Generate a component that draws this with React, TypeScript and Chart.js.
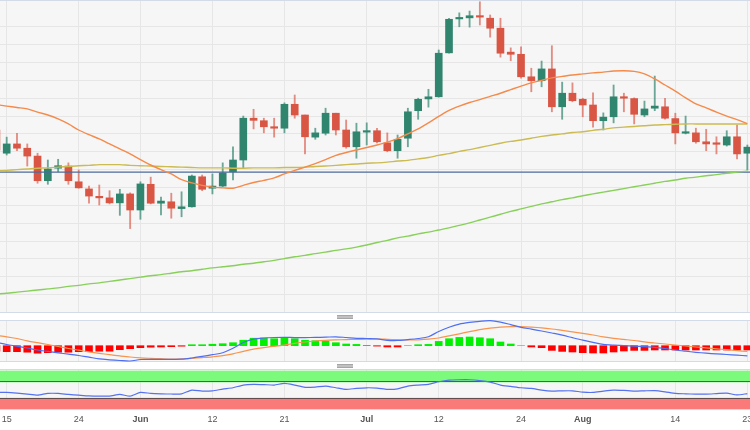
import React, { useEffect, useRef } from 'react';
import { Chart, registerables } from 'chart.js';

Chart.register(...registerables);

// ---- EUR/USD daily, trading-day index (0 = 15 May 2023, 72 = 23 Aug 2023) ----
const FIRST_INDEX = -1;

const TICK_INDEX = [0, 7, 13, 20, 27, 35, 42, 50, 56, 65, 72];
const TICK_LABELS = ['15', '24', 'Jun', '12', '21', 'Jul', '12', '24', 'Aug', '14', '23'];
const TICK_BOLD = [false, false, true, false, false, true, false, false, true, false, false];

const OPEN = [1.0911, 1.0846, 1.0872, 1.0860, 1.0838, 1.0769, 1.0804, 1.0810, 1.0766, 1.0746, 1.0724, 1.0721, 1.0707, 1.0732, 1.0687, 1.0759, 1.0706, 1.0710, 1.0691, 1.0696, 1.0780, 1.0748, 1.0754, 1.0794, 1.0827, 1.0944, 1.0937, 1.0920, 1.0916, 1.0983, 1.0953, 1.0891, 1.0902, 1.0958, 1.0911, 1.0864, 1.0905, 1.0909, 1.0875, 1.0853, 1.0888, 1.0965, 1.0998, 1.1004, 1.1127, 1.1222, 1.1225, 1.1231, 1.1224, 1.1196, 1.1129, 1.1123, 1.1060, 1.1049, 1.1082, 1.0976, 1.1014, 1.0997, 1.0981, 1.0937, 1.0948, 1.1004, 1.0999, 1.0953, 1.0972, 1.0976, 1.0943, 1.0902, 1.0903, 1.0878, 1.0874, 1.0869, 1.0892, 1.0846];
const HIGH = [1.0922, 1.0891, 1.0902, 1.0872, 1.0846, 1.0827, 1.0829, 1.0819, 1.0799, 1.0754, 1.0757, 1.0741, 1.0745, 1.0735, 1.0766, 1.0779, 1.0723, 1.0734, 1.0738, 1.0785, 1.0785, 1.0788, 1.0819, 1.0864, 1.0950, 1.0969, 1.0944, 1.0944, 1.0987, 1.1009, 1.0953, 1.0916, 1.0972, 1.0958, 1.0939, 1.0930, 1.0931, 1.0916, 1.0903, 1.0897, 1.0972, 1.1000, 1.1025, 1.1135, 1.1224, 1.1239, 1.1244, 1.1270, 1.1233, 1.1224, 1.1141, 1.1144, 1.1084, 1.1104, 1.1147, 1.1045, 1.1043, 1.1000, 1.1015, 1.0959, 1.1037, 1.1014, 1.1001, 1.0992, 1.1062, 1.1000, 1.0958, 1.0950, 1.0916, 1.0913, 1.0892, 1.0909, 1.0925, 1.0869];
const LOW = [1.0847, 1.0841, 1.0853, 1.0810, 1.0762, 1.0759, 1.0794, 1.0759, 1.0748, 1.0706, 1.0701, 1.0704, 1.0672, 1.0635, 1.0661, 1.0704, 1.0673, 1.0664, 1.0668, 1.0695, 1.0741, 1.0732, 1.0752, 1.0771, 1.0804, 1.0914, 1.0903, 1.0891, 1.0903, 1.0944, 1.0844, 1.0885, 1.0897, 1.0897, 1.0860, 1.0832, 1.0869, 1.0875, 1.0850, 1.0832, 1.0864, 1.0941, 1.0975, 1.1003, 1.1126, 1.1200, 1.1199, 1.1205, 1.1171, 1.1115, 1.1105, 1.1056, 1.1018, 1.1032, 1.0962, 1.0941, 1.0990, 1.0948, 1.0919, 1.0911, 1.0931, 1.0962, 1.0928, 1.0948, 1.0965, 1.0941, 1.0872, 1.0900, 1.0874, 1.0853, 1.0844, 1.0866, 1.0830, 1.0799];
const CLOSE = [1.0855, 1.0872, 1.0860, 1.0838, 1.0769, 1.0802, 1.0811, 1.0769, 1.0749, 1.0726, 1.0721, 1.0707, 1.0732, 1.0687, 1.0760, 1.0706, 1.0712, 1.0692, 1.0696, 1.0782, 1.0745, 1.0754, 1.0791, 1.0827, 1.0944, 1.0938, 1.0920, 1.0916, 1.0983, 1.0953, 1.0892, 1.0903, 1.0958, 1.0911, 1.0864, 1.0906, 1.0908, 1.0878, 1.0853, 1.0885, 1.0962, 1.0997, 1.1004, 1.1126, 1.1221, 1.1225, 1.1231, 1.1227, 1.1196, 1.1126, 1.1123, 1.1060, 1.1049, 1.1082, 1.0976, 1.1014, 1.0993, 1.0981, 1.0937, 1.0947, 1.1004, 1.1000, 1.0955, 1.0970, 1.0978, 1.0944, 1.0903, 1.0906, 1.0878, 1.0872, 1.0871, 1.0892, 1.0844, 1.0863];

const SMA20 = [1.0982, 1.0978, 1.0974, 1.0970, 1.0961, 1.0953, 1.0942, 1.0928, 1.0911, 1.0898, 1.0886, 1.0872, 1.0858, 1.0844, 1.0828, 1.0813, 1.0800, 1.0788, 1.0772, 1.0763, 1.0756, 1.0751, 1.0749, 1.0748, 1.0756, 1.0764, 1.0770, 1.0777, 1.0788, 1.0798, 1.0807, 1.0817, 1.0828, 1.0840, 1.0848, 1.0855, 1.0862, 1.0869, 1.0877, 1.0887, 1.0900, 1.0914, 1.0931, 1.0949, 1.0966, 1.0978, 1.0988, 1.0996, 1.1005, 1.1014, 1.1024, 1.1034, 1.1043, 1.1050, 1.1057, 1.1061, 1.1065, 1.1068, 1.1071, 1.1073, 1.1076, 1.1077, 1.1075, 1.1068, 1.1054, 1.1037, 1.1020, 1.1001, 1.0984, 1.0973, 1.0961, 1.0950, 1.0940, 1.0929];
const SMA50 = [1.0796, 1.0798, 1.0800, 1.0802, 1.0804, 1.0805, 1.0807, 1.0809, 1.0811, 1.0812, 1.0814, 1.0814, 1.0814, 1.0812, 1.0811, 1.0810, 1.0809, 1.0808, 1.0807, 1.0806, 1.0805, 1.0805, 1.0805, 1.0804, 1.0804, 1.0805, 1.0805, 1.0805, 1.0806, 1.0806, 1.0807, 1.0809, 1.0810, 1.0812, 1.0814, 1.0816, 1.0818, 1.0819, 1.0821, 1.0824, 1.0826, 1.0830, 1.0834, 1.0840, 1.0845, 1.0851, 1.0856, 1.0862, 1.0868, 1.0874, 1.0879, 1.0883, 1.0888, 1.0893, 1.0897, 1.0900, 1.0904, 1.0906, 1.0910, 1.0913, 1.0917, 1.0919, 1.0921, 1.0923, 1.0925, 1.0926, 1.0927, 1.0928, 1.0928, 1.0928, 1.0928, 1.0928, 1.0928, 1.0928];
const SMA200 = [1.0452, 1.0454, 1.0457, 1.0460, 1.0463, 1.0466, 1.0469, 1.0473, 1.0476, 1.0480, 1.0483, 1.0487, 1.0491, 1.0495, 1.0499, 1.0503, 1.0506, 1.0510, 1.0514, 1.0517, 1.0521, 1.0525, 1.0528, 1.0531, 1.0535, 1.0538, 1.0542, 1.0546, 1.0551, 1.0556, 1.0560, 1.0565, 1.0569, 1.0574, 1.0578, 1.0583, 1.0589, 1.0596, 1.0602, 1.0609, 1.0614, 1.0620, 1.0625, 1.0631, 1.0637, 1.0644, 1.0651, 1.0659, 1.0667, 1.0675, 1.0683, 1.0690, 1.0697, 1.0704, 1.0710, 1.0716, 1.0721, 1.0727, 1.0732, 1.0737, 1.0742, 1.0747, 1.0752, 1.0757, 1.0762, 1.0767, 1.0771, 1.0776, 1.0779, 1.0783, 1.0786, 1.0790, 1.0793, 1.0796];
const SUPPORT_LEVEL = [1.0793];

// MACD values in units of 0.0001
const MACD_LINE = [6.4, 2.4, -1.0, -4.6, -8.6, -11.4, -14.2, -17.0, -19.6, -23.0, -26.4, -28.2, -29.6, -30.6, -27.6, -27.2, -27.2, -27.2, -27.0, -24.6, -21.4, -18.0, -14.2, -5.2, 6.4, 13.0, 15.4, 16.4, 16.8, 16.2, 16.2, 16.6, 17.0, 17.8, 16.4, 14.8, 14.4, 13.8, 10.8, 10.4, 12.2, 14.4, 18.0, 28.4, 36.8, 43.2, 46.6, 48.8, 50.0, 47.2, 42.2, 36.8, 33.2, 29.4, 25.4, 21.2, 16.0, 11.0, 6.6, 2.6, 1.0, 0.2, -0.8, -1.8, -3.2, -5.6, -8.6, -11.0, -13.2, -15.0, -16.4, -17.6, -19.0, -20.2];
const MACD_SIGNAL = [20.4, 17.8, 14.4, 9.8, 6.0, 2.4, -1.6, -5.6, -9.0, -12.2, -15.2, -18.0, -20.4, -22.6, -24.2, -25.2, -26.0, -26.6, -26.2, -25.2, -23.8, -22.2, -20.0, -16.2, -11.2, -7.0, -3.8, -1.2, 1.2, 4.6, 7.4, 9.4, 10.8, 11.6, 12.2, 12.6, 13.0, 13.4, 12.8, 12.0, 11.4, 11.8, 13.0, 15.4, 19.8, 23.8, 28.2, 32.2, 35.0, 37.0, 38.0, 38.0, 37.0, 35.6, 33.4, 30.6, 27.8, 24.8, 21.4, 17.8, 14.8, 12.6, 10.4, 7.6, 5.4, 3.4, 1.4, -0.6, -2.6, -4.4, -6.2, -8.0, -10.0, -11.6];
const MACD_HIST = [-11, -12, -12, -13, -15, -14, -13, -13, -12, -12, -11, -11, -8, -6, -4, -3, -2.6, -2, -1, 2, 2, 3, 4, 6, 11, 15, 15.4, 14, 15.4, 14, 11, 10, 9.4, 6, 3.4, 2.6, 0.8, -0.8, -2.6, -2.6, 0, 2, 2.6, 8.6, 14, 16.6, 17.4, 16, 14, 7.4, 3.4, 0, -2.6, -4, -9.4, -11.4, -12.6, -14, -14.6, -14.6, -12.6, -10.6, -9.4, -9.4, -8.6, -8.6, -8.6, -8.6, -8.6, -8.6, -8.6, -8.6, -8.6, -8.6];

const RSI = [44.0, 44.0, 42.2, 39.6, 37.0, 41.5, 41.5, 38.9, 37.0, 35.2, 34.5, 34.5, 38.9, 34.5, 44.0, 41.5, 40.4, 39.9, 40.4, 50.0, 47.4, 48.2, 52.6, 56.0, 63.0, 64.8, 64.2, 63.0, 67.4, 63.0, 57.0, 57.8, 60.4, 56.0, 51.8, 54.4, 56.0, 55.2, 51.8, 53.1, 60.4, 63.0, 64.8, 71.5, 75.9, 76.7, 76.7, 74.6, 70.7, 63.0, 59.6, 56.0, 54.4, 50.0, 47.4, 48.2, 48.2, 44.8, 44.0, 47.4, 50.0, 49.2, 47.4, 48.2, 48.7, 45.6, 41.5, 40.4, 39.6, 39.6, 40.9, 42.2, 37.6, 40.9];
const RSI_BANDS = [30, 70];

// ---- styling ----
const FONT = "'Liberation Sans', Arial, sans-serif";
const UP = '#30856f';
const DOWN = '#d95544';
const UP_WICK = 'rgba(48,133,111,0.7)';
const DOWN_WICK = 'rgba(217,85,68,0.65)';
const PANEL_BG = '#f6f6f6';
const GRID = '#e6e6e6';
const BORDER = '#d3dbe8';
const X_MIN = -0.651;
const X_MAX = 72.26;

const xs = (k: number) => k + FIRST_INDEX;
const pts = (arr: number[]) => arr.map((v, k) => ({ x: xs(k), y: v }));

const panelPlugin = {
  id: 'panels',
  beforeDraw(chart: any) {
    const { ctx, chartArea: ca, scales } = chart;
    ctx.save();
    ctx.fillStyle = '#ffffff';
    ctx.fillRect(0, 0, chart.width, chart.height);
    ctx.fillStyle = PANEL_BG;
    for (const id of ['y', 'yMacd', 'yRsi']) {
      const s = scales[id];
      ctx.fillRect(ca.left, s.top, ca.right - ca.left, s.bottom - s.top);
    }
    ctx.restore();
  },
  beforeDatasetsDraw(chart: any) {
    const { ctx, chartArea: ca, scales } = chart;
    const w = ca.right - ca.left;
    ctx.save();
    ctx.fillStyle = '#ffffff';
    for (const id of ['yGap1', 'yGap2']) {
      const s = scales[id];
      ctx.fillRect(ca.left, s.top, w, s.bottom - s.top);
    }
    const r = scales.yRsi;
    const yTop = r.getPixelForValue(100);
    const yUp = r.getPixelForValue(RSI_BANDS[1]);
    const yLo = r.getPixelForValue(RSI_BANDS[0]);
    const yZero = r.getPixelForValue(0);
    ctx.fillStyle = 'rgb(124,250,124)';
    ctx.fillRect(ca.left, yTop, w, yUp - yTop);
    ctx.fillStyle = 'rgb(250,122,122)';
    ctx.fillRect(ca.left, yLo, w, yZero - yLo);
    ctx.lineWidth = 1;
    ctx.strokeStyle = 'rgba(70,70,70,0.85)';
    ctx.beginPath();
    ctx.moveTo(ca.left, Math.round(yUp) - 0.5);
    ctx.lineTo(ca.right, Math.round(yUp) - 0.5);
    ctx.moveTo(ca.left, Math.round(yLo) + 0.5);
    ctx.lineTo(ca.right, Math.round(yLo) + 0.5);
    ctx.stroke();
    // panel borders
    ctx.strokeStyle = BORDER;
    ctx.beginPath();
    for (const id of ['y', 'yMacd', 'yRsi']) {
      const s = scales[id];
      ctx.moveTo(ca.left, Math.round(s.top) + 0.5);
      ctx.lineTo(ca.right, Math.round(s.top) + 0.5);
      ctx.moveTo(ca.left, Math.round(s.bottom) - 0.5);
      ctx.lineTo(ca.right, Math.round(s.bottom) - 0.5);
    }
    ctx.stroke();
    // drag handles
    for (const id of ['yGap1', 'yGap2']) {
      const s = scales[id];
      const cy = (s.top + s.bottom) / 2;
      const cx = 345;
      ctx.fillStyle = '#a6a6a6';
      ctx.fillRect(cx - 8, Math.round(cy) - 2, 16, 4);
      ctx.fillStyle = '#dcdcdc';
      ctx.fillRect(cx - 8, Math.round(cy) - 0.5, 16, 1);
    }
    ctx.restore();
  },
};

export default function App() {
  const ref = useRef<HTMLCanvasElement>(null);

  useEffect(() => {
    const bodyColors = OPEN.map((o, k) => (CLOSE[k] >= o ? UP : DOWN));
    const wickColors = OPEN.map((o, k) => (CLOSE[k] >= o ? UP_WICK : DOWN_WICK));
    const histColors = MACD_HIST.map((v) => (v >= 0 ? '#00f000' : '#ff0000'));

    const chart = new Chart(ref.current as HTMLCanvasElement, {
      type: 'bar',
      data: {
        datasets: [
          {
            type: 'line',
            label: 'SMA 20',
            data: pts(SMA20),
            yAxisID: 'y',
            borderColor: '#f58a4b',
            borderWidth: 1.4,
            pointRadius: 0,
            tension: 0.3,
            order: 1,
          } as any,
          {
            type: 'line',
            label: 'SMA 50',
            data: pts(SMA50),
            yAxisID: 'y',
            borderColor: '#cbbb52',
            borderWidth: 1.4,
            pointRadius: 0,
            tension: 0.3,
            order: 2,
          },
          {
            type: 'line',
            label: 'SMA 200',
            data: pts(SMA200),
            yAxisID: 'y',
            borderColor: '#88d05a',
            borderWidth: 1.4,
            pointRadius: 0,
            tension: 0.3,
            order: 2,
          },
          {
            type: 'line',
            label: 'Level',
            data: [
              { x: FIRST_INDEX, y: SUPPORT_LEVEL[0] },
              { x: xs(OPEN.length), y: SUPPORT_LEVEL[0] },
            ],
            yAxisID: 'y',
            borderColor: '#4d6b9b',
            borderWidth: 1.2,
            pointRadius: 0,
            order: 3,
          },
          {
            type: 'bar',
            label: 'Body',
            data: OPEN.map((o, k) => ({ x: xs(k), y: [o, CLOSE[k]] })),
            yAxisID: 'y',
            backgroundColor: bodyColors,
            borderWidth: 0,
            barThickness: 7,
            grouped: false,
            minBarLength: 1.5,
            order: 4,
          } as any,
          {
            type: 'bar',
            label: 'Wick',
            data: LOW.map((l, k) => ({ x: xs(k), y: [l, HIGH[k]] })),
            yAxisID: 'y',
            backgroundColor: wickColors,
            borderWidth: 0,
            barThickness: 1.2,
            grouped: false,
            order: 5,
          } as any,
          {
            type: 'line',
            label: 'MACD',
            data: pts(MACD_LINE),
            yAxisID: 'yMacd',
            borderColor: '#4f6ff2',
            borderWidth: 1.2,
            pointRadius: 0,
            tension: 0.3,
            order: 1,
          },
          {
            type: 'line',
            label: 'Signal',
            data: pts(MACD_SIGNAL),
            yAxisID: 'yMacd',
            borderColor: '#f7944f',
            borderWidth: 1.2,
            pointRadius: 0,
            tension: 0.3,
            order: 2,
          },
          {
            type: 'bar',
            label: 'Histogram',
            data: pts(MACD_HIST),
            yAxisID: 'yMacd',
            backgroundColor: histColors,
            borderWidth: 0,
            barThickness: 7,
            grouped: false,
            order: 3,
          } as any,
          {
            type: 'line',
            label: 'RSI',
            data: pts(RSI),
            yAxisID: 'yRsi',
            borderColor: '#5572f0',
            borderWidth: 1.2,
            pointRadius: 0,
            tension: 0.2,
            order: 1,
          },
        ],
      },
      options: {
        responsive: false,
        animation: false,
        devicePixelRatio: 1,
        events: [],
        layout: { padding: 0, autoPadding: false },
        plugins: { legend: { display: false }, tooltip: { enabled: false }, title: { display: false } },
        scales: {
          x: {
            type: 'linear',
            min: X_MIN,
            max: X_MAX,
            offset: false,
            grid: { color: GRID, offset: false, drawTicks: false },
            border: { display: false },
            afterBuildTicks: (s: any) => {
              s.ticks = TICK_INDEX.map((v) => ({ value: v }));
            },
            afterFit: (s: any) => {
              s.paddingLeft = 0;
              s.paddingRight = 0;
              s.height = 20.5;
            },
            ticks: {
              autoSkip: false,
              maxRotation: 0,
              minRotation: 0,
              padding: 5,
              color: '#555555',
              font: (c: any) => ({ family: FONT, size: 9, weight: TICK_BOLD[c.index] ? 'bold' : 'normal' }),
              callback: (_v: any, i: number) => TICK_LABELS[i],
            },
          },
          y: {
            type: 'linear',
            position: 'right',
            stack: 'panels',
            stackWeight: 313,
            min: 1.03986,
            max: 1.1275,
            display: true,
            grid: { color: GRID, drawTicks: false },
            border: { display: false },
            ticks: { display: false, stepSize: 0.005 },
          },
          yGap1: {
            type: 'linear',
            position: 'right',
            stack: 'panels',
            stackWeight: 7,
            min: 0,
            max: 1,
            display: false,
          },
          yMacd: {
            type: 'linear',
            position: 'right',
            stack: 'panels',
            stackWeight: 42,
            min: -32.6,
            max: 51.4,
            display: false,
          },
          yGap2: {
            type: 'linear',
            position: 'right',
            stack: 'panels',
            stackWeight: 7,
            min: 0,
            max: 1,
            display: false,
          },
          yRsi: {
            type: 'linear',
            position: 'right',
            stack: 'panels',
            stackWeight: 40.5,
            min: 0,
            max: 104.4,
            display: false,
          },
        },
      } as any,
      plugins: [panelPlugin],
    });
    return () => chart.destroy();
  }, []);

  return (
    <div style={{ position: 'fixed', left: 0, top: 0, width: 750, height: 430, background: '#ffffff' }}>
      <canvas ref={ref} width={750} height={430} style={{ display: 'block' }} />
    </div>
  );
}
